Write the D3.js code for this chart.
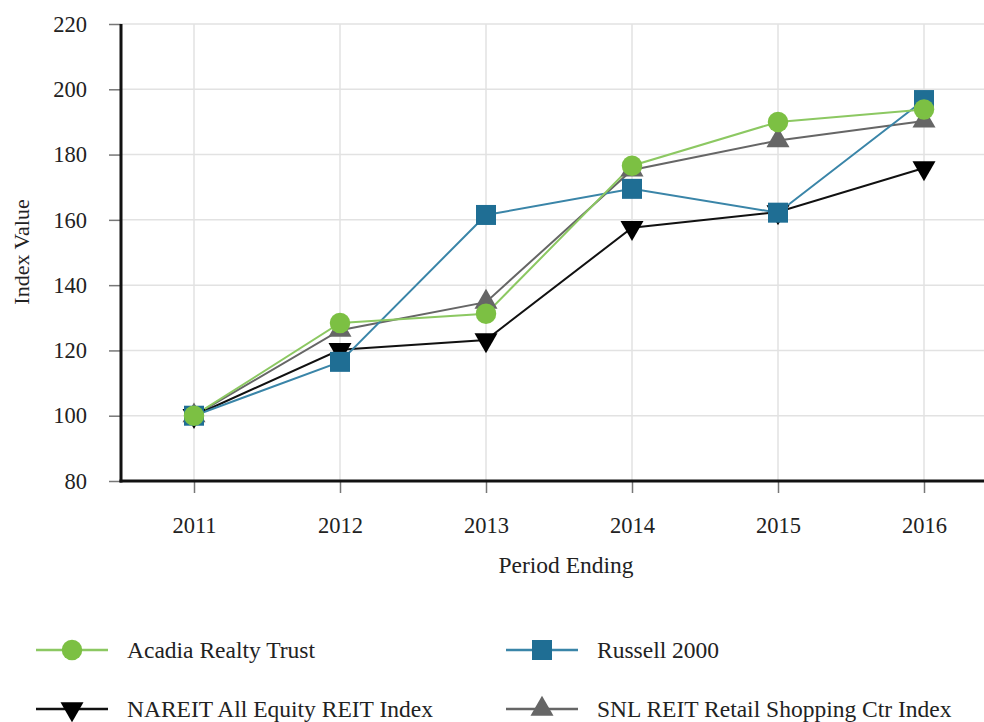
<!DOCTYPE html>
<html>
<head>
<meta charset="utf-8">
<script src="https://cdn.jsdelivr.net/npm/d3@7"></script>
<style>
  body { margin: 0; background: #fff; }
  svg text { font-family: "Liberation Serif", "Times New Roman", Times, "DejaVu Serif", serif; fill: #222; }
</style>
</head>
<body>
<div id="canvas"></div>
<script>
var years = ['2011', '2012', '2013', '2014', '2015', '2016'];
var yTicks = [80, 100, 120, 140, 160, 180, 200, 220];
var acadia = [100, 128.4, 131.2, 176.6, 190.0, 193.8];
var russell = [100, 116.5, 161.5, 169.5, 162.2, 196.7];
var nareit = [100, 120.2, 123.2, 157.6, 162.4, 175.9];
var snl = [100, 126.2, 134.8, 175.3, 184.3, 190.3];

var series = [
  { name: 'Acadia Realty Trust', values: acadia, line: '#8cc862', fill: '#7cc043', symbol: 'circle' },
  { name: 'Russell 2000', values: russell, line: '#3a85a8', fill: '#1f6e94', symbol: 'square' },
  { name: 'NAREIT All Equity REIT Index', values: nareit, line: '#111', fill: '#000', symbol: 'down' },
  { name: 'SNL REIT Retail Shopping Ctr Index', values: snl, line: '#666', fill: '#666', symbol: 'up' }
];

var width = 984, height = 722;
var plotLeft = 121, plotTop = 24, plotBottom = 481, plotRight = 997;
var serif = '"Liberation Serif", "Times New Roman", Times, serif';

var svg = d3.select('#canvas').append('svg')
  .attr('width', width)
  .attr('height', height);

var x = d3.scalePoint().domain(years).range([plotLeft, plotRight]).padding(0.5);
var y = d3.scaleLinear().domain([80, 220]).range([plotBottom, plotTop]);

// grid
svg.append('g').selectAll('line').data(yTicks.slice(1)).enter().append('line')
  .attr('x1', plotLeft).attr('x2', width)
  .attr('y1', function (d) { return y(d); }).attr('y2', function (d) { return y(d); })
  .attr('stroke', '#e2e2e2').attr('stroke-width', 1.5);
svg.append('g').selectAll('line').data(years).enter().append('line')
  .attr('x1', function (d) { return x(d); }).attr('x2', function (d) { return x(d); })
  .attr('y1', plotTop).attr('y2', plotBottom)
  .attr('stroke', '#e2e2e2').attr('stroke-width', 1.5);

// axes
var yAxis = svg.append('g').attr('transform', 'translate(' + plotLeft + ',0)')
  .call(d3.axisLeft(y).tickValues(yTicks).tickSize(12).tickPadding(22));
var xAxis = svg.append('g').attr('transform', 'translate(0,' + plotBottom + ')')
  .call(d3.axisBottom(x).tickSize(12).tickPadding(24));
[yAxis, xAxis].forEach(function (a) {
  a.select('.domain').remove();
  a.attr('font-family', serif);
  a.selectAll('.tick line').attr('stroke', '#777').attr('stroke-width', 1.5);
  a.selectAll('.tick text').style('font-size', '22.5px').style('font-family', serif).attr('fill', '#222');
});
svg.append('line').attr('x1', plotLeft).attr('x2', plotLeft).attr('y1', plotTop).attr('y2', plotBottom + 1.5)
  .attr('stroke', '#111').attr('stroke-width', 3);
svg.append('line').attr('x1', plotLeft - 1.5).attr('x2', width).attr('y1', plotBottom).attr('y2', plotBottom)
  .attr('stroke', '#111').attr('stroke-width', 3);

svg.append('text').attr('x', 566).attr('y', 573).attr('text-anchor', 'middle')
  .style('font-size', '23.5px').style('font-family', serif).text('Period Ending');
svg.append('text').attr('transform', 'translate(29,252) rotate(-90)').attr('text-anchor', 'middle')
  .style('font-size', '22px').style('font-family', serif).text('Index Value');

var symbolFor = function (s) {
  if (s === 'circle') return d3.symbol().type(d3.symbolCircle).size(330)();
  if (s === 'square') return d3.symbol().type(d3.symbolSquare).size(400)();
  return d3.symbol().type(d3.symbolTriangle).size(230)();
};
var rotFor = function (s) { return s === 'down' ? ' rotate(180)' : ''; };

var line = d3.line()
  .x(function (d, i) { return x(years[i]); })
  .y(function (d) { return y(d); });

// draw order: SNL, NAREIT, Russell, Acadia so markers overlap like the reference
var order = [3, 2, 1, 0];
order.forEach(function (k) {
  var s = series[k];
  svg.append('path').datum(s.values)
    .attr('d', line).attr('fill', 'none')
    .attr('stroke', s.line).attr('stroke-width', 2);
});
order.forEach(function (k) {
  var s = series[k];
  svg.append('g').selectAll('path').data(s.values).enter().append('path')
    .attr('d', symbolFor(s.symbol))
    .attr('transform', function (d, i) { return 'translate(' + x(years[i]) + ',' + y(d) + ')' + rotFor(s.symbol); })
    .attr('fill', s.fill);
});

// legend
var legendPos = [[72, 650], [542, 650], [72, 709], [542, 709]];
series.forEach(function (s, i) {
  var p = legendPos[i];
  var g = svg.append('g').attr('transform', 'translate(' + p[0] + ',' + p[1] + ')');
  g.append('line').attr('x1', -36).attr('x2', 36).attr('y1', 0).attr('y2', 0)
    .attr('stroke', s.line).attr('stroke-width', 2.5);
  g.append('path').attr('d', symbolFor(s.symbol)).attr('fill', s.fill)
    .attr('transform', s.symbol === 'down' ? 'rotate(180)' : null);
  g.append('text').attr('x', 55).attr('y', 8).style('font-size', '23.5px').style('font-family', serif).text(s.name);
});
</script>
</body>
</html>
